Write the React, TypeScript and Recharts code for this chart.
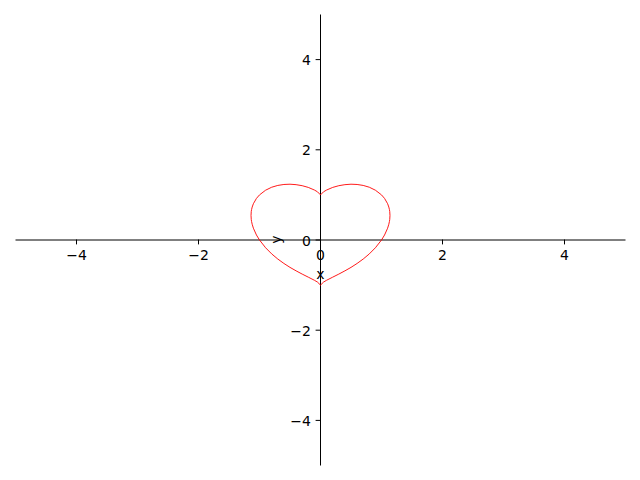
import { LineChart, Line, XAxis, YAxis, ReferenceLine } from "recharts";

// heart curve, traced clockwise starting at the top notch
const heartX = [
  0, 0.05, 0.1, 0.2, 0.3, 0.4, 0.5, 0.6, 0.7, 0.8, 0.9, 1.0, 1.05, 1.1, 1.12, 1.13, 1.135, 1.139,
  1.135, 1.13, 1.12, 1.1, 1.05, 1.0, 0.9, 0.8, 0.7, 0.6, 0.5, 0.4, 0.3, 0.2, 0.1, 0.05, 0,
  -0.05, -0.1, -0.2, -0.3, -0.4, -0.5, -0.6, -0.7, -0.8, -0.9, -1.0, -1.05, -1.1, -1.12, -1.13, -1.135, -1.139,
  -1.135, -1.13, -1.12, -1.1, -1.05, -1.0, -0.9, -0.8, -0.7, -0.6, -0.5, -0.4, -0.3, -0.2, -0.1, -0.05, 0,
];
const heartY = [
  1.0, 1.069, 1.108, 1.166, 1.204, 1.227, 1.237, 1.231, 1.21, 1.17, 1.104, 1.0, 0.922, 0.805, 0.73, 0.674, 0.632, 0.545,
  0.456, 0.411, 0.349, 0.261, 0.111, 0, -0.172, -0.308, -0.422, -0.52, -0.607, -0.684, -0.756, -0.824, -0.893, -0.933, -1.0,
  -0.933, -0.893, -0.824, -0.756, -0.684, -0.607, -0.52, -0.422, -0.308, -0.172, 0, 0.111, 0.261, 0.349, 0.411, 0.456, 0.545,
  0.632, 0.674, 0.73, 0.805, 0.922, 1.0, 1.104, 1.17, 1.21, 1.231, 1.237, 1.227, 1.204, 1.166, 1.108, 1.069, 1.0,
];
const xTicks = [-4, -2, 0, 2, 4];
const yTicks = [-4, -2, 0, 2, 4];

const W = 640;
const H = 480;
const PAD = 14.5;
// pixel centre of the two spines (half-pixel so the 1px lines stay crisp)
const ZERO_X = 320.5;
const ZERO_Y = 239.5;
const TICK = 4.9;
const FONT = "'DejaVu Sans', sans-serif";

const fmt = (v: number) => (v < 0 ? "\u2212" + Math.abs(v) : String(v));

function XTick(props: any) {
  const { x, payload } = props;
  return (
    <g>
      <line x1={x} x2={x} y1={ZERO_Y} y2={ZERO_Y + TICK} stroke="#000" strokeWidth={1} />
      <text x={x} y={ZERO_Y + 20.5} textAnchor="middle" fontSize={14} fontFamily={FONT} fill="#000">
        {fmt(payload.value)}
      </text>
    </g>
  );
}

function YTick(props: any) {
  const { y, payload } = props;
  return (
    <g>
      <line x1={ZERO_X - TICK} x2={ZERO_X} y1={y} y2={y} stroke="#000" strokeWidth={1} />
      <text x={ZERO_X - 9.5} y={y + 5.5} textAnchor="end" fontSize={14} fontFamily={FONT} fill="#000">
        {fmt(payload.value)}
      </text>
    </g>
  );
}

export default function App() {
  const data = heartX.map((x, i) => ({ x, y: heartY[i] }));

  return (
    <div style={{ position: "absolute", left: 0, top: 0, width: W, height: H, background: "#fff" }}>
      <LineChart
        width={W}
        height={H}
        data={data}
        margin={{ top: PAD, right: PAD, bottom: PAD - 1, left: PAD }}
      >
        <XAxis
          dataKey="x"
          type="number"
          domain={[-5, 5]}
          ticks={xTicks}
          interval={0}
          height={1}
          axisLine={false}
          tickLine={false}
          tick={(p: any) => <XTick {...p} />}
          allowDataOverflow
        />
        <YAxis
          type="number"
          domain={[-5, 5]}
          ticks={yTicks}
          interval={0}
          width={1}
          axisLine={false}
          tickLine={false}
          tick={(p: any) => <YTick {...p} />}
          allowDataOverflow
        />
        <ReferenceLine
          y={0}
          stroke="#000"
          strokeWidth={1}
          label={{
            content: () => (
              <text
                x={ZERO_X - 40}
                y={ZERO_Y}
                transform={`rotate(-90 ${ZERO_X - 40} ${ZERO_Y})`}
                textAnchor="middle"
                fontSize={14}
                fontFamily={FONT}
                fill="#000"
              >
                y
              </text>
            ),
          }}
        />
        <ReferenceLine
          x={0}
          stroke="#000"
          strokeWidth={1}
          label={{
            content: () => (
              <text x={ZERO_X} y={ZERO_Y + 39.5} textAnchor="middle" fontSize={14} fontFamily={FONT} fill="#000">
                x
              </text>
            ),
          }}
        />
        <Line
          dataKey="y"
          type="linear"
          stroke="#ff0000"
          strokeWidth={0.9}
          dot={false}
          activeDot={false}
          isAnimationActive={false}
        />
      </LineChart>
    </div>
  );
}
